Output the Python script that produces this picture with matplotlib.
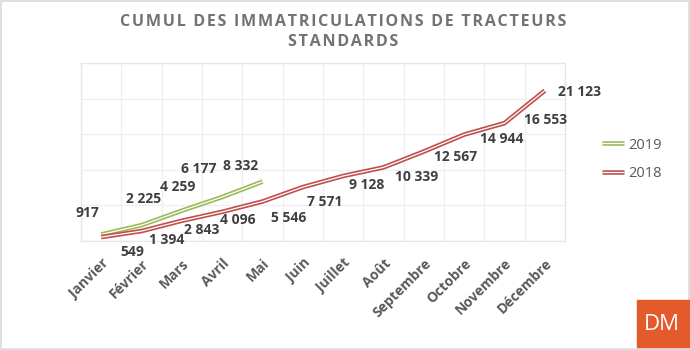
import matplotlib
matplotlib.use("Agg")
import matplotlib.pyplot as plt
import matplotlib.patheffects as pe
from matplotlib.patches import Rectangle
import numpy as np

# données
mois = ["Janvier", "Février", "Mars", "Avril", "Mai", "Juin", "Juillet",
        "Août", "Septembre", "Octobre", "Novembre", "Décembre"]
cumul_2019 = [917, 2225, 4259, 6177, 8332]
cumul_2018 = [549, 1394, 2843, 4096, 5546, 7571, 9128, 10339, 12567, 14944, 16553, 21123]

# décalages des étiquettes (pixels, depuis le point)
decal_2019 = [(-14, 21), (2, 26), (-4, 24), (-23, 28), (-22, 16)]
decal_2018 = [(31, -15), (25, -9), (20, -9), (16, -8), (26, -16), (22, -15),
              (24, -9), (33, -10), (32, -5), (38, -4), (41, 3), (35, -1)]

vert = "#9bbb59"
rouge = "#c0504d"
gris_txt = "#595959"
gris_lbl = "#404040"

plt.rcParams['font.family'] = ['Open Sans', 'DejaVu Sans']

fig = plt.figure(figsize=(6.9, 3.5), dpi=100)
ax = fig.add_axes([81 / 690, 1 - 241 / 350, (565 - 81) / 690, (241 - 63) / 350])

x = np.arange(len(mois))

def ligne_double(xs, ys, couleur, label):
    ax.plot(xs, ys, color="white", lw=0.9, label=label, zorder=3,
            solid_capstyle="butt",
            path_effects=[pe.Stroke(linewidth=3.3, foreground=couleur), pe.Normal()])

ligne_double(x[:len(cumul_2019)], cumul_2019, vert, "2019")
ligne_double(x, cumul_2018, rouge, "2018")

def fmt(v):
    return f"{v:,}".replace(",", " ")

for xi, v, d in zip(x, cumul_2019, decal_2019):
    ax.annotate(fmt(v), (xi, v), xytext=d, textcoords="offset pixels",
                ha="center", va="center", fontsize=10, fontweight="bold",
                color=gris_lbl, annotation_clip=False)
for xi, v, d in zip(x, cumul_2018, decal_2018):
    ax.annotate(fmt(v), (xi, v), xytext=d, textcoords="offset pixels",
                ha="center", va="center", fontsize=10, fontweight="bold",
                color=gris_lbl, annotation_clip=False)

ax.set_xlim(-0.5, len(mois) - 0.5)
ax.set_ylim(0, 25000)
ax.set_yticks(np.arange(0, 25001, 5000))
ax.set_yticklabels([])
ax.set_xticks(x)
ax.set_xticklabels(mois, rotation=45, ha="right", rotation_mode="anchor",
                   fontsize=10, fontweight="bold", color=gris_txt)
ax.set_xticks(np.arange(-0.5, len(mois), 1), minor=True)
ax.tick_params(axis="both", which="both", length=0)
ax.tick_params(axis="x", which="major", pad=11)
ax.grid(True, which="minor", axis="x", color="#eeeef3", lw=0.9)
ax.grid(True, which="major", axis="y", color="#eeeef3", lw=0.9)
for s in ax.spines.values():
    s.set_color("#e6e6ea")
    s.set_linewidth(0.9)

leg = ax.legend(loc="center left", bbox_to_anchor=(1.05, 0.46), frameon=False,
                fontsize=10.5, handlelength=1.5, handletextpad=0.3, labelspacing=0.9)
for t in leg.get_texts():
    t.set_color(gris_txt)

# titre avec espacement des lettres
titre = ["CUMUL DES IMMATRICULATIONS DE TRACTEURS", "STANDARDS"]
titre = "\n".join("\u200a".join(l) for l in titre)
fig.text(0.497, 0.908, titre, ha="center", va="center", fontsize=11.6,
         fontweight="bold", color="#737373", linespacing=1.35)

# logo DM
fig.patches.append(Rectangle((637 / 690, 3 / 350), 53 / 690, 47 / 350,
                             transform=fig.transFigure, color="#e55a2b", zorder=5))
fig.text(662 / 690, 25 / 350, "DM", ha="center", va="center", fontsize=16,
         color="white", zorder=6)

# cadre
fig.patches.append(Rectangle((0.002, 0.002), 0.996, 0.994, transform=fig.transFigure,
                             fill=False, edgecolor="#d9d9d9", lw=1.2))

fig.savefig("out.png", dpi=100)
